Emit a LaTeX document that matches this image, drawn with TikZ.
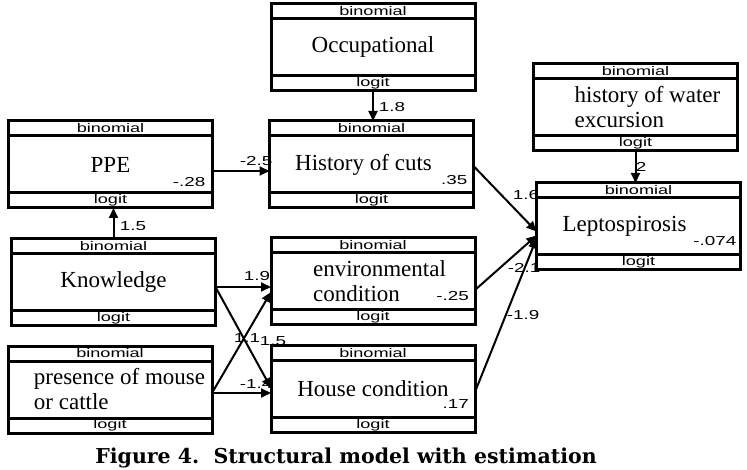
\documentclass[tikz,border=0pt]{standalone}
\usepackage{fontspec}
\setmainfont{Liberation Serif}
\newfontfamily\tagfont[FakeStretch=1.45]{Liberation Sans}
\newfontfamily\capfont{DejaVu Serif}
\usetikzlibrary{arrows.meta,positioning}

\begin{document}
\begin{tikzpicture}[
        x=1pt, y=-1pt,
        mainbox/.style={draw, rectangle, line width=3pt, outer sep=0pt, minimum width=204pt, minimum height=57pt, inner sep=2pt, align=left, font=\fontsize{23}{25}\selectfont},
        tagbox/.style={draw, rectangle, line width=3pt, outer sep=0pt, minimum width=204pt, minimum height=15pt, inner sep=0pt, font=\tagfont\fontsize{12.5}{12}\selectfont},
        arrow/.style={-{Triangle[length=10pt,width=9pt]}, line width=2pt},
        est/.style={inner sep=0pt, font=\tagfont\fontsize{13}{13}\selectfont}
    ]
        \useasboundingbox (0,0) rectangle (747,470);

        % Exogenous variables
        \node[mainbox] (occ) at (373,47) {Occupational};
        \node[tagbox, above=0pt of occ] (occ-bin) {binomial};
        \node[tagbox, below=0pt of occ] (occ-logit) {logit};

        \node[mainbox] (know) at (113.5,282.5) {Knowledge};
        \node[tagbox, above=0pt of know] (know-bin) {binomial};
        \node[tagbox, below=0pt of know] (know-logit) {logit};

        \node[mainbox] (mouse) at (110,389.5) {\hspace*{19pt}presence of mouse\\\hspace*{19pt}or cattle};
        \node[tagbox, above=0pt of mouse] (mouse-bin) {binomial};
        \node[tagbox, below=0pt of mouse] (mouse-logit) {logit};

        \node[mainbox] (water) at (635.5,107.5) {\hspace*{24pt}history of water\\\hspace*{24pt}excursion};
        \node[tagbox, above=0pt of water] (water-bin) {binomial};
        \node[tagbox, below=0pt of water] (water-logit) {logit};

        % Mediators
        \node[mainbox] (ppe) at (110.5,164.5) {PPE};
        \node[tagbox, above=0pt of ppe] (ppe-bin) {binomial};
        \node[tagbox, below=0pt of ppe] (ppe-logit) {logit};

        \node[mainbox] (cuts) at (371.5,164.5) {History of cuts\hspace*{16pt}};
        \node[tagbox, above=0pt of cuts] (cuts-bin) {binomial};
        \node[tagbox, below=0pt of cuts] (cuts-logit) {logit};

        \node[mainbox] (env) at (373,281.5) {\hspace*{13pt}environmental\\\hspace*{13pt}condition};
        \node[tagbox, above=0pt of env] (env-bin) {binomial};
        \node[tagbox, below=0pt of env] (env-logit) {logit};

        \node[mainbox] (house) at (373,389) {House condition};
        \node[tagbox, above=0pt of house] (house-bin) {binomial};
        \node[tagbox, below=0pt of house] (house-logit) {logit};

        % Outcome
        \node[mainbox] (lepto) at (638.5,226.5) {Leptospirosis\hspace*{28pt}};
        \node[tagbox, above=0pt of lepto] (lepto-bin) {binomial};
        \node[tagbox, below=0pt of lepto] (lepto-logit) {logit};

        % Residuals
        \node[est, anchor=south east] (ppe-res) at ([xshift=-7pt,yshift=6pt]ppe.south east) {-.28};
        \node[est, anchor=south east] (cuts-res) at ([xshift=-6pt,yshift=8pt]cuts.south east) {.35};
        \node[est, anchor=south east] (env-res) at ([xshift=-6pt,yshift=9pt]env.south east) {-.25};
        \node[est, anchor=south east] (house-res) at ([xshift=-6pt,yshift=9pt]house.south east) {.17};
        \node[est, anchor=south east] (lepto-res) at ([xshift=-4pt,yshift=9pt]lepto.south east) {-.074};

        % Connections
        \draw[arrow] (occ-logit.south) -- (occ-logit.south |- cuts-bin.north);
        \draw[arrow] (know-bin.north) -- (know-bin.north |- ppe-logit.south);
        \draw[arrow] ([yshift=-6.5pt]ppe.east) -- ([yshift=-6.5pt]ppe.east -| cuts.west);
        \draw[arrow] ([yshift=-4.5pt]know.east) -- ([yshift=-5.5pt]env.west);
        \draw[arrow] ([yshift=-4.5pt]know.east) -- ([yshift=1pt]house.west);
        \draw[arrow] ([yshift=-3.5pt]mouse.east) -- ([yshift=-10.5pt]env.west);
        \draw[arrow] ([yshift=-3.5pt]mouse.east) -- ([yshift=-4pt]house.west);
        \draw[arrow] ([yshift=-1.5pt]cuts.east) -- ([yshift=-5pt]lepto.west);
        \draw[arrow] ([yshift=-8.5pt]env.east) -- ([yshift=-9pt]lepto.west);
        \draw[arrow] ([yshift=-3pt]house.east) -- ([yshift=-12pt]lepto.west);
        \draw[arrow] (water-logit.south) -- (water-logit.south |- lepto-bin.north);

        % Estimates
        \node[est] (e-occ) at (392,107) {1.8};
        \node[est] (e-know) at (133,226) {1.5};
        \node[est] (e-ppe) at (256,161) {-2.5};
        \node[est] (e-know-env) at (257,276) {1.9};
        \node[est] (e-know-house) at (247,338) {1.1};
        \node[est] (e-mouse-env) at (273,341) {1.5};
        \node[est] (e-mouse-house) at (256,384) {-1.4};
        \node[est] (e-cuts) at (526,195) {1.6};
        \node[est] (e-env) at (524,268) {-2.1};
        \node[est] (e-house) at (523,315) {-1.9};
        \node[est] (e-water) at (641,167) {2};

        % Caption
        \node[font=\capfont\bfseries\fontsize{20.5}{22}\selectfont] (caption) at (346,458) {Figure 4.\ \ Structural model with estimation};
\end{tikzpicture}
\end{document}
